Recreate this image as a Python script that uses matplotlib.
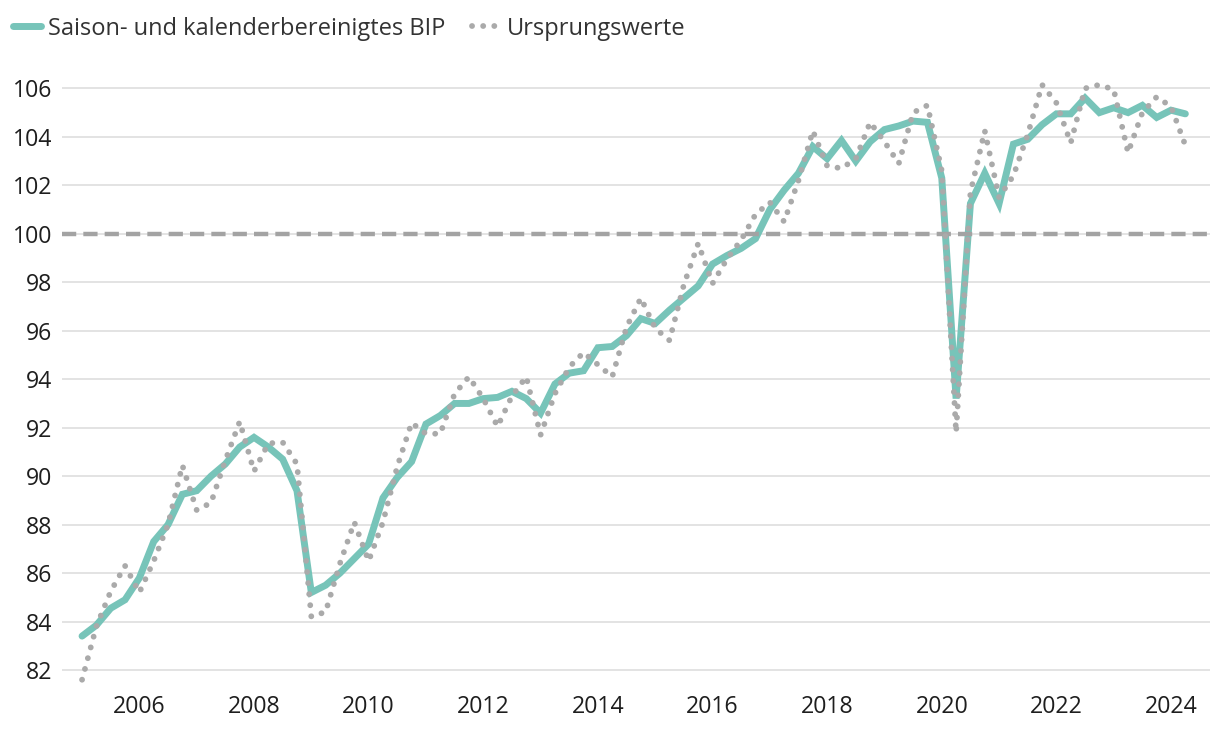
import matplotlib
matplotlib.use("Agg")
import matplotlib.pyplot as plt
import numpy as np

# quarterly, 2005 Q1 .. 2024 Q2
start_year = 2005
bip_sa = [83.4, 83.85, 84.55, 84.9, 85.8, 87.3, 88.0, 89.25, 89.4, 90.0,
          90.5, 91.2, 91.6, 91.2, 90.7, 89.4, 85.2, 85.5, 86.0, 86.6,
          87.2, 89.1, 89.95, 90.6, 92.15, 92.5, 93.0, 93.0, 93.2, 93.25,
          93.5, 93.2, 92.6, 93.8, 94.25, 94.35, 95.3, 95.35, 95.8, 96.5,
          96.3, 96.85, 97.35, 97.85, 98.75, 99.1, 99.4, 99.8, 101.0, 101.8,
          102.5, 103.6, 103.1, 103.85, 103.0, 103.8, 104.3, 104.45, 104.65, 104.6,
          102.3, 93.2, 101.25, 102.5, 101.25, 103.7, 103.9, 104.5, 104.95, 104.95,
          105.6, 105.0, 105.2, 105.0, 105.3, 104.8, 105.1, 104.95]
bip_raw = [81.6, 83.8, 85.25, 86.3, 85.2, 86.5, 88.0, 90.45, 88.6, 88.9,
           90.65, 92.25, 90.2, 91.35, 91.4, 90.5, 84.2, 84.4, 86.4, 88.1,
           86.5, 88.1, 90.4, 92.2, 91.75, 91.75, 93.4, 94.1, 93.2, 92.05,
           93.3, 94.1, 91.7, 93.4, 94.5, 95.1, 94.6, 94.1, 96.15, 97.35,
           96.1, 95.6, 97.9, 99.6, 97.95, 98.95, 99.75, 100.8, 101.3, 100.5,
           102.2, 104.25, 102.8, 102.7, 103.1, 104.6, 103.8, 102.9, 105.0, 105.3,
           102.6, 91.8, 101.7, 104.25, 101.5, 102.4, 104.1, 106.15, 105.4, 103.75,
           106.0, 106.15, 105.95, 103.35, 105.0, 105.65, 105.25, 103.65]
year_ticks = list(range(2006, 2025, 2))
y_ticks = list(range(82, 107, 2))

x = start_year + np.arange(len(bip_sa)) / 4.0

plt.rcParams['font.family'] = ['Open Sans', 'DejaVu Sans']
txt = '#333333'
teal = '#77c4b9'
grey = '#aaaaaa'

fig = plt.figure(figsize=(12.2, 7.36), dpi=100)
ax = fig.add_axes([62/1220, 49/736, 1148/1220, 618/736])

ax.plot(x, bip_sa, color=teal, lw=5.0, solid_joinstyle='miter',
        solid_capstyle='round', zorder=3, label='Saison- und kalenderbereinigtes BIP')
ax.plot(x, bip_raw, color=grey, lw=4.2, linestyle=(0, (0.01, 1.9)),
        dash_capstyle='round', zorder=5, label='Ursprungswerte')
ax.axhline(100, color='#a3a3a3', lw=3.2, linestyle=(0, (3.2, 1.6)), zorder=4)

ax.set_xlim(2004.65, 2024.68)
ax.set_ylim(81.3, 106.8)
ax.set_xticks(year_ticks)
ax.set_yticks(y_ticks)
ax.tick_params(length=0, labelsize=16.7, colors='#1e1e1e', pad=6)
ax.tick_params(axis='y', pad=7)
ax.grid(axis='y', color='#e3e3e3', lw=1.4, zorder=0)
for s in ax.spines.values():
    s.set_visible(False)

fig.legend(loc='upper left', bbox_to_anchor=(-0.003, 1.0), ncol=2, frameon=False,
           fontsize=17, labelcolor=txt, handlelength=1.2, handletextpad=0.3,
           columnspacing=1.1, borderaxespad=0.3)

fig.savefig('out.png', dpi=100)
